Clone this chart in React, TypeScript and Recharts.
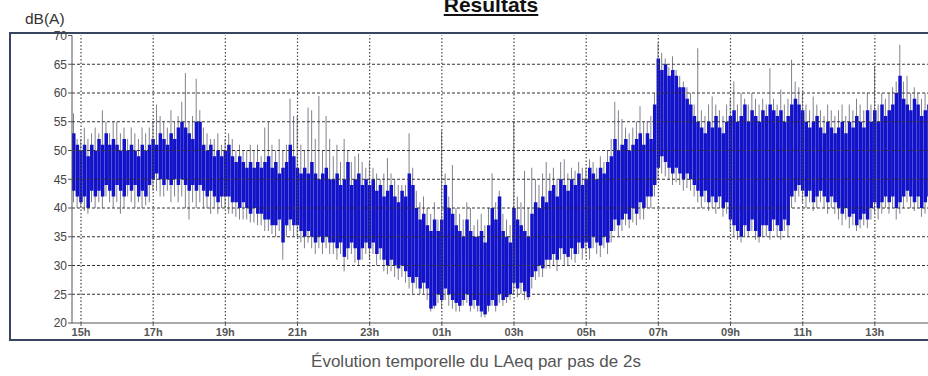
import React from 'react';
import { ComposedChart, Bar, XAxis, YAxis, ReferenceLine } from 'recharts';

// Time grid: one sample every 0.1 h starting at 14.8 h (hours > 24 are the next day)
const startHour = 14.8;
const stepHours = 0.1;

// Dense core of the LAeq trace (lower / upper edge, dB(A))
const bandLow = [
  43, 42,
  41, 42, 40, 43, 42, 43, 42, 44, 43, 42,
  44, 43, 42, 44, 43, 44, 42, 43, 42, 44,
  45, 46, 45, 44, 45, 44, 45, 44, 45, 44,
  43, 44, 43, 44, 43, 42, 43, 42, 41, 42,
  42, 42, 41, 41, 40, 41, 40, 39, 40, 39,
  39, 38, 38, 37, 37, 38, 34, 37, 38, 37,
  37, 36, 35, 36, 35, 34, 35, 34, 35, 34,
  34, 33, 34, 31.5, 33, 34, 33, 31, 33, 34,
  33, 34, 32, 33, 31, 30, 31, 30, 29.5, 30,
  29, 28, 27, 28, 26, 27, 26, 22.5, 23, 25,
  24, 26, 25, 24, 23.5, 23, 24, 25, 23, 24,
  23, 22, 21.5, 23, 24, 23, 25, 24, 24.5, 25,
  27, 26, 27, 25.5, 24.5, 28, 29, 30, 29.5, 31,
  31, 32, 31, 33, 32, 31.5, 33, 32, 34, 33,
  34, 33, 35, 34, 33.5, 35, 34, 36, 38, 37,
  38, 39, 38, 40, 39, 41, 40, 42, 42, 44,
  47, 49, 48, 47, 46, 47, 46, 45, 46, 45,
  44, 43, 42, 43, 41, 42, 41, 42, 40, 41,
  38, 37, 36, 35, 37, 36, 38, 36, 35, 37,
  37, 36, 38, 37, 36, 38, 37, 42, 43, 44,
  43, 42, 43, 41, 42, 43, 42, 41, 42, 41,
  40, 39, 40, 38.5, 39, 37, 38, 39, 38, 40,
  41, 40, 41, 42, 41, 42, 40, 41, 42, 43,
  42, 41, 42, 40, 41, 42, 41, 42,
];

const bandHigh = [
  53, 51,
  50, 51, 49, 51, 50, 52, 51, 53, 51, 52,
  51, 50, 52, 50, 51, 50, 49, 51, 50, 51,
  52, 51, 53, 52, 51, 53, 52, 54, 55, 54,
  53, 52, 55, 55, 51, 50, 51, 49, 50, 49,
  50, 51, 49, 48, 49, 48, 47, 48, 47, 48,
  47, 48, 49, 47, 48, 46, 47, 48, 51, 49,
  47, 46, 47, 46, 48, 46, 45, 46, 47, 45,
  45, 46, 44, 45, 48, 44, 45, 46, 44, 45,
  44, 45, 43, 44, 42, 43, 44, 42, 41, 43,
  42, 46, 44, 40, 38, 39, 37, 36, 38, 36,
  38, 44, 40, 39, 37, 36, 35, 38, 36, 35,
  35, 36, 34, 37, 40, 38, 42, 36, 35, 34,
  40, 38, 37, 36, 35, 39, 41, 40, 42, 41,
  43, 44, 42, 45, 44, 43, 45, 44, 46, 44,
  45, 47, 46, 45, 47, 46, 48, 49, 52, 50,
  51, 52, 50, 51, 52, 53, 51, 53, 52, 58,
  66, 64, 65, 63, 64, 63, 61, 61, 59, 58,
  56, 55, 54, 53, 55, 54, 56, 54, 53, 55,
  56, 57, 55, 56, 58, 55, 57, 56, 55, 57,
  56, 58, 57, 56, 57, 55, 56, 58, 59, 58,
  57, 55, 54, 55, 56, 54, 53, 55, 54, 53,
  54, 55, 53, 55, 54, 56, 55, 54, 57, 55,
  57, 55, 58, 56, 57, 58, 60, 63, 59, 58,
  57, 59, 58, 56, 57, 58, 56, 57,
];

// Extreme values (thin grey spikes) for each sample
const peakLow = [
  41, 40,
  40, 39.5, 39, 41, 40, 41, 40, 42, 41, 40,
  41, 39, 40, 42, 41, 40, 41, 40, 40.5, 41,
  43, 43, 42, 42, 43, 41, 42, 41, 42, 40,
  38, 41, 40, 41, 40, 40, 39, 40, 39, 40,
  40, 39, 39, 38.5, 38, 38, 38, 37.5, 37.5, 37,
  37, 36, 36, 35.5, 35, 36, 31, 35, 36, 35,
  35, 34, 33, 34, 33, 32, 33, 32, 33, 32,
  32, 31, 32, 29, 31, 32, 30.5, 30, 31, 32,
  31, 32, 30, 31, 29, 28.5, 29, 28, 27.5, 28,
  27, 26, 25, 26, 25, 25, 24, 22, 22.5, 23.5,
  22.5, 24, 23, 22.5, 22, 22, 23, 23.5, 22, 22.5,
  22, 21, 21, 22, 23, 22, 23.5, 23, 23.5, 24,
  25, 24.5, 25, 24, 24, 26, 27.5, 28, 28, 29.5,
  29.5, 30, 29, 31, 30, 30, 31, 30.5, 32, 31,
  32, 31, 33, 32, 31.5, 33, 32, 34, 36, 35,
  36, 37, 36.5, 37.5, 37, 38, 38, 40, 40, 42,
  45, 46, 45.5, 45, 44, 44.5, 44, 43, 43.5, 43,
  42, 41, 40, 41, 39.5, 40, 39, 40, 38.5, 39,
  36, 35, 34.5, 34, 35, 35, 36, 34.5, 34, 35,
  35, 34.5, 36, 35, 34.5, 36, 35, 40, 41, 42,
  41, 40, 41, 39.5, 40, 41, 40, 39, 40, 39,
  38, 37, 38, 36.5, 37, 36, 36.5, 37, 36.5, 38,
  39, 38, 39, 40, 39, 40, 38, 39, 40, 41,
  40, 39.5, 40, 38.5, 39, 40, 39, 40,
];

const peakHigh = [
  56.5, 52,
  52, 54, 52, 53, 54, 53, 57, 55, 53, 55,
  55, 53, 54, 52, 54, 53, 52, 54, 53, 54,
  55, 58, 56, 55, 54, 57, 55, 56, 58.5, 63.5,
  55, 56, 62.5, 57, 54, 53, 52, 52, 53, 51,
  52, 53, 52, 50, 51, 50, 50, 51, 50, 51,
  49, 54, 55, 51, 50, 52, 50, 51, 59, 56,
  56, 51, 50, 57.5, 57, 52, 59.5, 50, 56, 52,
  49, 51, 48, 52, 50, 48, 49, 49.5, 48, 47,
  48, 47, 46, 45, 46, 48.7, 46, 45, 44, 44,
  44, 53, 47, 43, 41, 42, 40, 39, 41, 38,
  53.5, 46, 42, 47.5, 40, 39, 38, 41, 40, 37,
  38, 39, 37, 40, 46, 41, 43, 39, 38, 37,
  55, 42, 41, 46.5, 40, 47, 45, 44, 46, 48,
  46, 47, 45, 48, 48.5, 46, 47, 46.5, 48, 47,
  47, 48.5, 48, 47, 49, 48, 50, 52, 58.5, 57,
  55.5, 54, 53, 54, 55, 57.7, 55, 55, 56, 60,
  68.7, 67, 66, 64.5, 66.4, 64, 63, 62, 61, 60,
  58, 67.8, 57, 56, 58, 59.4, 58, 57, 56, 58,
  59, 62, 58, 60, 59, 58, 60, 59, 58, 59,
  58, 64.3, 59, 58, 60.6, 58, 59, 65.8, 62, 61,
  60, 58, 57, 59.4, 58, 57, 56, 58, 57, 56,
  57, 58, 56, 58, 57, 59, 58, 57, 60, 58,
  64.6, 58, 60, 59, 60, 61, 62, 68.4, 62, 63,
  60, 61, 60, 59, 60, 61, 59, 60,
];

const tickHours = [15, 17, 19, 21, 23, 25, 27, 29, 31, 33, 35, 37];
const tickLabels = ['15h', '17h', '19h', '21h', '23h', '01h', '03h', '05h', '07h', '09h', '11h', '13h'];
const yTicks = [20, 25, 30, 35, 40, 45, 50, 55, 60, 65, 70];
const yGrid = [25, 30, 35, 40, 45, 50, 55, 60, 65];

const data = bandLow.map((lo, i) => ({
  t: Math.round((startHour + i * stepHours) * 100) / 100,
  band: [lo, bandHigh[i]],
  peak: [peakLow[i], peakHigh[i]],
}));

const FONT = '"Liberation Sans", Arial, Helvetica, sans-serif';
const X_DOMAIN: [number, number] = [14.75, 38.75];

export default function App() {
  return (
    <div
      style={{
        position: 'absolute',
        left: 0,
        top: 0,
        width: 928,
        height: 376,
        overflow: 'hidden',
        background: '#ffffff',
        fontFamily: FONT,
      }}
    >
      <div
        style={{
          position: 'absolute',
          left: 0,
          top: -7,
          width: 982,
          textAlign: 'center',
          fontSize: 21,
          fontWeight: 'bold',
          textDecoration: 'underline',
          color: '#111',
          whiteSpace: 'nowrap',
        }}
      >
        Résultats
      </div>
      <div
        style={{
          position: 'absolute',
          left: 25,
          top: 9.5,
          fontSize: 15.5,
          color: '#333',
          whiteSpace: 'nowrap',
        }}
      >
        dB(A)
      </div>
      <div
        style={{
          position: 'absolute',
          left: 9,
          top: 32,
          width: 1000,
          height: 309,
          border: '2px solid #3a4560',
          boxSizing: 'border-box',
        }}
      />
      <div style={{ position: 'absolute', left: 0, top: 0 }}>
        <ComposedChart
          width={960}
          height={345}
          data={data}
          margin={{ top: 35.5, right: 22, bottom: 2, left: 22 }}
        >
          <XAxis
            xAxisId="band"
            dataKey="t"
            type="number"
            domain={X_DOMAIN}
            allowDataOverflow
            orientation="top"
            height={0}
            hide
          />
          <XAxis
            xAxisId="main"
            dataKey="t"
            type="number"
            domain={X_DOMAIN}
            allowDataOverflow
            ticks={tickHours}
            interval={0}
            tickFormatter={(v: number) => tickLabels[tickHours.indexOf(v)] ?? ''}
            tick={{ fontSize: 11, fontWeight: 'bold', fill: '#555', fontFamily: FONT }}
            tickSize={3}
            tickMargin={2}
            axisLine={{ stroke: '#555' }}
            tickLine={{ stroke: '#555' }}
            height={20}
          />
          <YAxis
            domain={[20, 70]}
            ticks={yTicks}
            interval={0}
            allowDataOverflow
            width={50}
            tickSize={4}
            tickMargin={1}
            tick={{ fontSize: 12, fill: '#444', fontFamily: FONT }}
            axisLine={{ stroke: '#555' }}
            tickLine={{ stroke: '#555' }}
          />
          <Bar
            xAxisId="main"
            dataKey="peak"
            fill="#80808f"
            barSize={1}
            isAnimationActive={false}
          />
          <Bar
            xAxisId="band"
            dataKey="band"
            fill="#1212c8"
            barSize={3.5}
            isAnimationActive={false}
          />
          {yGrid.map((v) => (
            <ReferenceLine
              key={'h' + v}
              xAxisId="main"
              y={v}
              stroke="#333"
              strokeWidth={1}
              strokeDasharray="3 2"
            />
          ))}
          {tickHours.map((h) => (
            <ReferenceLine
              key={'v' + h}
              xAxisId="main"
              x={h}
              stroke="#444"
              strokeWidth={1.2}
              strokeDasharray="1.5 2"
            />
          ))}
        </ComposedChart>
      </div>
      <div
        style={{
          position: 'absolute',
          left: 0,
          top: 351.5,
          width: 952,
          textAlign: 'center',
          fontSize: 17,
          color: '#555',
          whiteSpace: 'nowrap',
        }}
      >
        Évolution temporelle du LAeq par pas de 2s
      </div>
    </div>
  );
}
